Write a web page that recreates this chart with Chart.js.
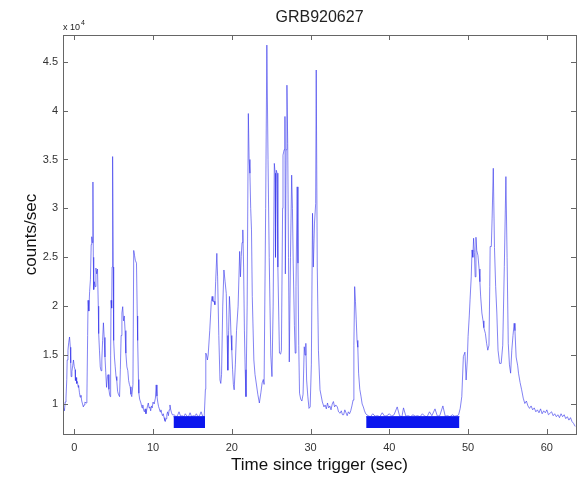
<!DOCTYPE html>
<html>
<head>
<meta charset="utf-8">
<script src="https://cdn.jsdelivr.net/npm/chart.js@4/dist/chart.umd.min.js"></script>
<style>
  body { margin: 0; background: #fff; }
  #grb { display: block; }
</style>
</head>
<body>
<canvas id="grb" width="583" height="479"></canvas>
<script>
// light curve (time in s, counts/sec)
const times = [
  -1.45, -1.35, -1.25, -1.15, -1.05, -0.95, -0.9, -0.8, -0.7, -0.6, -0.5, -0.45, -0.4, -0.3, -0.2, -0.1,
  0.0, 0.1, 0.15, 0.25, 0.3, 0.4, 0.5, 0.55, 0.65, 0.75, 0.85, 0.95, 1.05, 1.15, 1.25, 1.35, 1.5, 1.6,
  1.7, 1.75, 1.85, 1.95, 2.05, 2.15, 2.22, 2.3, 2.37, 2.42, 2.47, 2.55, 2.65, 2.75, 2.85, 2.95, 3.05, 3.1,
  3.2, 3.3, 3.4, 3.5, 3.6, 3.7, 3.8, 3.9, 4.0, 4.1, 4.2, 4.3, 4.4, 4.5, 4.57, 4.62, 4.67, 4.75, 4.8, 4.87,
  4.95, 5.0, 5.1, 5.2, 5.3, 5.4, 5.5, 5.6, 5.75, 5.85, 5.95, 6.05, 6.15, 6.25, 6.35, 6.45, 6.55, 6.68, 6.8,
  6.9, 7.0, 7.1, 7.2, 7.3, 7.45, 7.55, 7.65, 7.75, 7.9, 8.0, 8.05, 8.15, 8.2, 8.3, 8.46,
  8.6, 8.7, 8.8, 8.9, 9.0, 9.1, 9.2, 9.3, 9.4, 9.5, 9.6, 9.7, 9.8, 9.9, 10.0, 10.15, 10.3, 10.4, 10.5,
  10.6, 10.7, 10.8, 10.9, 11.0, 11.1, 11.2, 11.3, 11.4, 11.5, 11.55, 11.65, 11.75, 11.85, 11.95, 12.05,
  12.15, 12.25, 12.35, 12.45, 12.55,
  12.7, 12.9, 13.1, 13.3, 13.5, 13.7, 13.9, 14.1, 14.3, 14.5, 14.7, 14.9, 15.1, 15.3, 15.5, 15.7, 15.9,
  16.1, 16.3, 16.5,
  16.65, 16.7, 16.8, 16.9, 17.0, 17.2, 17.4, 17.5, 17.6, 17.75, 17.85, 17.95, 18.1, 18.2, 18.35, 18.5,
  18.6, 18.7, 18.85, 19.0, 19.15, 19.3, 19.4, 19.5, 19.6, 19.7, 19.8, 19.9, 20.0, 20.1, 20.2, 20.3,
  20.45, 20.6, 20.8, 21.0, 21.1, 21.2, 21.3, 21.4, 21.5, 21.6, 21.7, 21.8, 21.95, 22.1, 22.2, 22.3,
  22.4, 22.5, 22.6, 22.8, 22.95, 23.1, 23.3, 23.5, 23.7, 23.85, 24.0, 24.1, 24.3, 24.45, 24.6, 24.75,
  24.95, 25.1,
  25.25, 25.4, 25.5, 25.55, 25.65, 25.75, 25.85, 26.05, 26.2, 26.3, 26.45, 26.5, 26.65, 26.75, 26.8,
  26.9, 27.0, 27.1, 27.2, 27.3, 27.45, 27.6, 27.7, 27.8, 27.95, 28.05, 28.15, 28.3, 28.4, 28.5, 28.6,
  28.75, 28.9, 29.05, 29.2, 29.3, 29.4, 29.5, 29.65, 29.8, 29.95, 30.1, 30.25, 30.35, 30.5, 30.65, 30.72,
  30.85, 31.0, 31.2, 31.5,
  31.7, 31.85, 32.0, 32.15, 32.3, 32.45, 32.6, 32.75, 32.9, 33.05, 33.2, 33.4, 33.55, 33.75, 33.9,
  34.05, 34.2, 34.35, 34.5, 34.65, 34.8, 34.95, 35.1, 35.25, 35.4, 35.5, 35.6, 35.7, 35.8, 35.9, 36.0,
  36.1, 36.25, 36.4, 36.55, 36.7, 36.85, 37.0,
  37.3, 37.6, 37.9, 38.2, 38.5, 38.8, 39.1, 39.4, 39.7, 40.0, 40.3, 40.6, 41.0, 41.3, 41.6, 41.8, 42.1,
  42.4, 42.7, 43.0, 43.3, 43.6, 43.9, 44.2, 44.5, 44.8, 45.1, 45.4, 45.8, 46.1, 46.4, 46.8, 47.1, 47.4,
  47.7, 48.0, 48.3, 48.6, 48.8,
  49.0, 49.2, 49.4, 49.6, 49.75, 49.9, 50.0, 50.15, 50.25, 50.4, 50.5, 50.6, 50.7, 50.8, 50.9, 51.0,
  51.1, 51.25, 51.4, 51.5, 51.6, 51.75, 51.9, 52.0, 52.2, 52.35, 52.5, 52.65, 52.75, 52.8, 52.95, 53.05,
  53.2, 53.35, 53.5, 53.65, 53.8, 54.0, 54.2, 54.4, 54.6, 54.8, 54.95, 55.1, 55.25, 55.4, 55.55, 55.7,
  55.85, 55.95, 56.1, 56.3, 56.4, 56.6, 56.8, 57.0, 57.2, 57.4, 57.6, 57.8, 58.0, 58.2, 58.4, 58.6,
  58.8, 59.0, 59.2, 59.4, 59.6, 59.8, 60.0, 60.2, 60.4, 60.6, 60.8, 61.0, 61.2, 61.4, 61.6, 61.8, 62.0,
  62.2, 62.4, 62.6, 62.8, 63.0, 63.2, 63.4, 63.6
];
const counts = [
  9200, 9600, 9300, 10200, 10600, 12500, 14500, 15500, 16300, 16850, 15800, 14200, 12800, 13300, 13900, 14500,
  13800, 13500, 12400, 12700, 12100, 12300, 11700, 11900, 11200, 10700, 10900, 10300, 10000, 9700, 9900, 10200, 10100, 10400,
  17000, 20600, 19500, 21500, 22700, 26300, 27100, 26500, 32700, 25000, 21700, 22500, 22000, 23900, 23300, 23800, 20000, 17200,
  15500, 13800, 13400, 14500, 16500, 18300, 16800, 14800, 13200, 11700, 12800, 13000, 11500, 10900, 10750, 15000, 20600, 19800, 24000, 35300,
  24000, 16500, 14800, 13800, 12800, 12400, 11300, 11000, 10750, 13500, 17000, 19300, 19950, 18500, 19000, 17500, 15200, 13800, 13400,
  12400, 12000, 11750, 11000, 10750, 12000, 25700, 25200, 24700, 24400, 19000, 16500, 12500, 11100, 10500, 10100,
  9600, 9900, 9400, 9200, 9500, 9000, 9400, 9800, 10100, 9600, 9700, 9300, 9800, 9600, 10200, 10000, 10600, 11950, 10800,
  10200, 9750, 9500, 9200, 9400, 9050, 8800, 9000, 8600, 8300, 8200, 8500, 8900, 9200, 8800, 9400,
  9900, 9400, 9100, 8900, 8880,
  8900, 8700, 8800, 9200, 8750, 8800, 8700, 9000, 8750, 8700, 9100, 8700, 8800, 8750, 9000, 8700, 8800,
  9200, 8750, 8700,
  11500, 15200, 15000, 14500, 15000, 17500, 20500, 21000, 20500, 20500, 20150, 22500, 25400, 23000, 17000, 12450,
  12100, 13000, 20000, 23700, 22500, 21300, 17000, 13450, 17500, 21000, 19500, 17000, 15500, 13500, 12000, 11450,
  14000, 17500, 20000, 25600, 23000, 25100, 26500, 27800, 24000, 17550, 13500, 10750, 20000, 39700, 35000, 33600,
  30000, 27800, 21000, 14500, 13000, 12150, 11000, 10100, 11200, 12150, 12500, 12000, 30000, 46700, 35000, 25000,
  15000, 12800,
  20000, 34600, 33600, 25000, 33900, 33600, 24000, 15200, 15100, 15500, 30000, 35450, 36000, 39400, 23300,
  36000, 42600, 36650, 25000, 14300, 25000, 33400, 30000, 24400, 18000, 15200, 22000, 32200, 24400, 16000, 11100,
  10500, 10300, 11000, 15850, 15000, 16200, 12450, 10800, 9550, 9700, 14000, 29500, 24000, 28500, 30500, 44150,
  24000, 15500, 11450, 10200,
  9700, 9900, 9500, 10100, 9600, 9800, 9400, 10000, 10250, 9700, 9900, 9700, 9200, 9050, 9300,
  8900, 8900, 9400, 9100, 8800, 9200, 9000, 9300, 9800, 10400, 16000, 22000, 20500, 18600, 16500, 15800,
  13150, 11500, 10800, 10000, 9700, 9300, 9000,
  8800, 8700, 9000, 8750, 8800, 8700, 9100, 8750, 8800, 9000, 8750, 8900, 9700, 8800, 8700, 9600, 8750,
  8800, 8700, 8900, 8750, 8800, 8700, 9000, 8750, 8700, 9200, 8800, 9500, 8750, 8800, 9800, 8750, 8800,
  8700, 8900, 8750, 8800, 8900,
  9550, 10750, 14850, 15300, 12450, 14500, 16900, 19000, 20650, 23000, 25750, 25000, 26950, 25500, 23000, 27050,
  25700, 25200, 23800, 22500, 20950, 19300, 18500, 17800, 17200, 16200, 15500, 16000, 22000, 26100, 26100, 29000,
  34100, 26000, 22000, 19300, 15500, 14150, 14150, 16000, 24050, 33250, 25000, 16200, 14000, 13150, 15500, 17000,
  18250, 17500, 14800, 13900, 13150, 12200, 11450, 10600, 10050, 10300, 9800, 9550, 9800, 9400, 9600, 9200,
  9400, 9100, 9500, 9000, 9300, 9100, 9400, 8900, 9050, 9200, 8800, 9000, 8700, 8900, 8600, 9000, 8700,
  8900, 8500, 8700, 8350, 8600, 8200, 8000, 7700
];

// solid blocks near the floor
const bandStart = [12.6, 37.06];
const bandEnd = [16.6, 48.9];
const bandTop = 8700;
const bandBottom = 7550;

const xTicks = [0, 10, 20, 30, 40, 50, 60];
const yTicks = [10000, 15000, 20000, 25000, 30000, 35000, 40000, 45000];
const xRange = [-1.43, 63.7];
const yRange = [6930, 47730];

const FONT = '"Liberation Sans", Arial, Helvetica, sans-serif';
const LINE = 'rgba(55, 55, 235, 0.62)';
const BAND = '#0b16ee';

const points = times.map((t, i) => ({ x: t, y: counts[i] }));

const bandSets = bandStart.map((s, i) => ({
  data: [{ x: s, y: bandTop }, { x: bandEnd[i], y: bandTop }],
  borderColor: BAND,
  borderWidth: 1,
  backgroundColor: BAND,
  pointRadius: 0,
  fill: { value: bandBottom },
  order: 0
}));

// matlab style frame, inward ticks, title, exponent
const frame = {
  id: 'frame',
  afterDraw(chart) {
    const { ctx, chartArea: a, scales } = chart;
    ctx.save();
    ctx.strokeStyle = '#666';
    ctx.lineWidth = 1;
    ctx.strokeRect(Math.round(a.left) + 0.5, Math.round(a.top) + 0.5,
      Math.round(a.right - a.left), Math.round(a.bottom - a.top));

    ctx.beginPath();
    xTicks.forEach(v => {
      const px = Math.round(scales.x.getPixelForValue(v)) + 0.5;
      ctx.moveTo(px, a.bottom); ctx.lineTo(px, a.bottom - 5);
      ctx.moveTo(px, a.top); ctx.lineTo(px, a.top + 5);
    });
    yTicks.forEach(v => {
      const py = Math.round(scales.y.getPixelForValue(v)) + 0.5;
      ctx.moveTo(a.left, py); ctx.lineTo(a.left + 5, py);
      ctx.moveTo(a.right, py); ctx.lineTo(a.right - 5, py);
    });
    ctx.stroke();

    ctx.fillStyle = '#222';
    ctx.textAlign = 'center';
    ctx.textBaseline = 'middle';
    ctx.font = '16px ' + FONT;
    ctx.fillText('GRB920627', (a.left + a.right) / 2, 18);

    ctx.textAlign = 'left';
    ctx.textBaseline = 'alphabetic';
    ctx.font = '9px ' + FONT;
    ctx.fillText('x 10', a.left, 30);
    ctx.font = '7px ' + FONT;
    ctx.fillText('4', a.left + 18, 25);
    ctx.restore();
  }
};

new Chart(document.getElementById('grb'), {
  type: 'line',
  data: {
    datasets: [
      {
        data: points,
        borderColor: LINE,
        borderWidth: 1,
        pointRadius: 0,
        fill: false,
        tension: 0,
        order: 1
      },
      ...bandSets
    ]
  },
  options: {
    responsive: false,
    animation: false,
    layout: { padding: { top: 35, right: 7, left: 0, bottom: 0 } },
    plugins: {
      legend: { display: false },
      tooltip: { enabled: false }
    },
    scales: {
      x: {
        type: 'linear',
        min: xRange[0],
        max: xRange[1],
        afterBuildTicks: s => { s.ticks = xTicks.map(v => ({ value: v })); },
        afterFit: s => { s.height = 45; },
        grid: { display: false, drawTicks: false },
        border: { display: false },
        ticks: { padding: 7, color: '#333', font: { family: FONT, size: 11 }, maxRotation: 0 },
        title: {
          display: true,
          text: 'Time since trigger (sec)',
          color: '#111',
          font: { family: FONT, size: 17 },
          padding: { top: 0, bottom: 3 }
        }
      },
      y: {
        min: yRange[0],
        max: yRange[1],
        afterBuildTicks: s => { s.ticks = yTicks.map(v => ({ value: v })); },
        afterFit: s => { s.width = 63; },
        grid: { display: false, drawTicks: false },
        border: { display: false },
        ticks: {
          padding: 5,
          color: '#333',
          font: { family: FONT, size: 11 },
          callback: v => String(v / 10000)
        },
        title: {
          display: true,
          text: 'counts/sec',
          color: '#111',
          font: { family: FONT, size: 17 },
          padding: { top: 21, bottom: 0 }
        }
      }
    }
  },
  plugins: [frame]
});
</script>
</body>
</html>
